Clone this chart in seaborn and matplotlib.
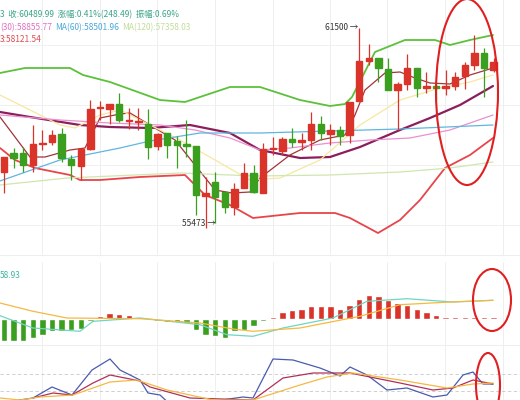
import matplotlib
matplotlib.use("Agg")
import matplotlib.pyplot as plt
import seaborn as sns
import numpy as np
import pandas as pd
from matplotlib.patches import Ellipse, Rectangle

sns.set_theme(style="white")
plt.rcParams['font.family'] = ['Noto Sans CJK SC', 'DejaVu Sans']

# candle readings (screen y, smaller = higher price): open, close, high, low
opens  = [172,153,153,165,144,142,134,159,166,149,108,109,104,121,122,124,146,133,141,144,146,196,182,192,207,188,173,
          193,149,151,139,142,140,124,134,130,135,101,61,58,69,90,84,68,88,86,88,86,76,65,53,70]
closes = [157,158,165,144,143,135,158,165,149,109,108,104,120,121,122,147,134,145,145,146,195,193,197,207,189,173,192,
          149,149,139,142,140,124,133,130,136,102,61,58,68,90,84,68,88,86,88,86,77,65,53,68,62]
highs  = [157,148,147,125,130,130,128,155,148,100,101,104,93,108,108,109,133,133,136,120,146,177,172,193,183,163,165,
          143,137,137,128,133,112,116,124,126,102,28,44,58,58,82,54,68,72,82,70,72,62,35,48,58]
lows   = [193,168,172,172,150,145,162,180,180,150,120,124,122,129,130,159,150,158,168,157,215,228,223,213,215,188,193,
          193,155,155,147,150,150,140,145,145,143,101,65,82,90,130,90,97,93,100,95,90,89,70,97,72]

# overlay lines: (screen x, screen y) readings
bb_up_x = [0,25,70,83,110,160,185,230,260,300,330,345,352,375,405,435,450,470,493]
bb_up_y = [73,68,68,75,82,100,102,87,87,100,106,104,97,52,40,40,45,40,35]
bb_lo_x = [0,15,35,70,80,100,140,185,205,230,253,300,335,350,378,400,420,445,470,493]
bb_lo_y = [148,160,168,175,180,180,177,175,195,205,218,213,213,218,233,220,200,168,155,138]
bb_mid_x = [0,30,80,110,150,190,230,260,300,330,360,400,430,460,493]
bb_mid_y = [112,117,125,127,128,125,133,150,158,157,147,130,118,105,86]
ma5_x = [0,30,45,70,85,100,120,130,145,175,195,215,232,250,260,290,320,345,355,365,385,400,415,430,450,470,493]
ma5_y = [117,157,157,150,148,118,114,113,122,140,165,190,193,192,178,155,140,135,115,90,73,72,78,83,84,75,68]
ma10_x = [0,40,60,75,100,120,150,180,215,250,280,320,360,400,440,470,493]
ma10_y = [95,115,125,128,115,110,125,140,160,180,178,160,125,100,88,82,75]
ma30_x = [0,60,110,160,195,230,260,290,330,370,410,450,493]
ma30_y = [115,120,123,125,130,138,150,148,143,140,138,130,115]
ma60_x = [0,60,120,150,200,260,330,400,493]
ma60_y = [181,160,148,141,133,133,131,129,125]
ma120_x = [0,67,180,255,330,400,450,493]
ma120_y = [185,178,173,176,175,172,168,162]

# MACD histogram (one per candle) and DIF/DEA lines
macd_hist = [-21.7,-21.7,-22.3,-19,-15.7,-12.3,-12.3,-10.7,-10,-2,2.7,6,5,4.3,2,-0.7,-1.7,-2.7,-3.3,-4,
             -10.7,-15.7,-17.3,-19,-12.3,-10.7,-6.7,-2.3,2,7,8.7,10,12.7,12.7,12.7,10.3,13.7,20,24.3,23.3,
             18.7,16,13.7,10.3,7,3.7,1.7,1.7,1.7,1.7,1.7,1.7]
dif_x = [0,33,80,93,140,200,227,253,283,333,367,407,453,493]
dif_y = [3.3,-9,-12.3,-2.3,1,-5.7,-15.7,-17.3,-9,1,17.7,20.3,17,18.7]
dea_x = [0,33,67,140,200,233,253,300,360,400,450,493]
dea_y = [16,7.7,1,0.3,-4,-10,-12.3,-9,2.7,14.3,17,18.7]

# KDJ readings (screen y)
k_x = [0,33,52,72,92,110,120,140,148,160,173,243,253,273,293,320,340,350,367,387,407,433,447,463,473,483,493]
k_y = [403,398,387,395,370,359,370,380,393,395,407,397,398,359,360,368,376,367,375,390,388,397,395,375,372,384,384]
d_x = [33,53,72,93,110,140,150,190,253,283,313,350,400,433,453,473,493]
d_y = [398,393,395,383,375,381,387,398,400,378,373,373,383,390,388,380,384]
j_x = [0,20,40,73,110,137,167,213,253,300,327,353,400,447,473,493]
j_y = [398,400,397,395,382,380,390,400,400,385,377,373,380,388,384,383]

P0, Y0, SCALE = 61500, 28, 30.1
to_price = lambda y: P0 - (np.asarray(y, float) - Y0) * SCALE
to_idx = lambda x: (np.asarray(x, float) - 4) / 9.6

df = pd.DataFrame({"open": to_price(opens), "close": to_price(closes),
                   "high": to_price(highs), "low": to_price(lows)})
df["i"] = np.arange(len(df))
RED, GREEN = "#d9332a", "#3a9e1e"

fig = plt.figure(figsize=(5.2, 4.0), dpi=100)
xl = (to_idx(0), to_idx(520))

def grid(ax, xs):
    for gx in xs:
        ax.axvline(to_idx(gx), color="#eeeeee", lw=0.7, zorder=0)

# main panel: screen y 0..255
ax = fig.add_axes([0, 1 - 255 / 400, 1, 255 / 400])
ax.set_xlim(*xl)
ax.set_ylim(to_price(255), to_price(0))
grid(ax, [42, 100, 157, 215, 273, 330, 387, 445, 503])
for gy in [45, 105, 165, 225]:
    ax.axhline(to_price(gy), color="#f0f0f0", lw=0.7, zorder=0)

lines = [(bb_up_x, bb_up_y, "#5cc13a", 1.3), (bb_lo_x, bb_lo_y, "#e8454a", 1.3),
         (bb_mid_x, bb_mid_y, "#8b1f5c", 1.6), (ma5_x, ma5_y, "#a3343a", 0.9),
         (ma10_x, ma10_y, "#f7e7a0", 0.9), (ma30_x, ma30_y, "#ea8fd0", 0.9),
         (ma60_x, ma60_y, "#5fb6e0", 0.9), (ma120_x, ma120_y, "#cfe6b0", 0.9)]
for lx, ly, c, w in lines:
    sns.lineplot(x=to_idx(lx), y=to_price(ly), color=c, lw=w, ax=ax, zorder=2)

for _, r in df.iterrows():
    up = r.close >= r.open
    c = RED if up else GREEN
    ax.vlines(r.i, r.low, r.high, color=c, lw=0.9, zorder=3)
    lo, hi = min(r.open, r.close), max(r.open, r.close)
    ax.add_patch(Rectangle((r.i - 0.33, lo), 0.66, max(hi - lo, 40), color=c, zorder=4))
ax.set_axis_off()

# MACD panel: screen y 262..345, zero line at y 319
ax2 = fig.add_axes([0, 1 - 345 / 400, 1, 83 / 400])
ax2.set_xlim(*xl)
ax2.set_ylim(-26, 57)
grid(ax2, [42, 100, 157, 215, 273, 330, 387, 445, 503])
ax2.bar(df.i, macd_hist, width=0.66,
        color=[RED if v > 0 else GREEN for v in macd_hist], zorder=3)
sns.lineplot(x=to_idx(dif_x), y=dif_y, color="#6fd6c0", lw=0.9, ax=ax2, zorder=4)
sns.lineplot(x=to_idx(dea_x), y=dea_y, color="#f5b942", lw=0.9, ax=ax2, zorder=4)
ax2.set_axis_off()

# KDJ panel: screen y 345..400
ax3 = fig.add_axes([0, 0, 1, 55 / 400])
ax3.set_xlim(*xl)
ax3.set_ylim(400, 345)
grid(ax3, [42, 100, 157, 215, 273, 330, 387, 445, 503])
for gy in [374, 391]:
    ax3.axhline(gy, color="#c8c8c8", lw=0.6, ls=(0, (4, 3)), zorder=1)
sns.lineplot(x=to_idx(k_x), y=k_y, color="#4a5bb0", lw=0.9, ax=ax3, zorder=4)
sns.lineplot(x=to_idx(d_x), y=d_y, color="#b0305a", lw=0.9, ax=ax3, zorder=4)
sns.lineplot(x=to_idx(j_x), y=j_y, color="#f5b942", lw=0.9, ax=ax3, zorder=4)
ax3.set_axis_off()

# overlay in screen pixels
ov = fig.add_axes([0, 0, 1, 1], facecolor="none")
ov.set_xlim(0, 520)
ov.set_ylim(400, 0)
ov.set_axis_off()
ov.plot([0, 520], [255, 255], color="#eeeeee", lw=0.8)
ov.plot([0, 520], [345, 345], color="#eeeeee", lw=0.8)
fs = 6
ov.text(0, 15, "3  收:60489.99  涨幅:0.41%(248.49)  振幅:0.69%", color="#3aa38a", fontsize=fs, va="center")
ov.text(0, 28, "(30):58855.77", color="#e070c0", fontsize=fs, va="center")
ov.text(55, 28, "MA(60):58501.96", color="#4aa8d8", fontsize=fs, va="center")
ov.text(122, 28, "MA(120):57358.03", color="#c2dc9a", fontsize=fs, va="center")
ov.text(0, 40, "3:58121.54", color="#e04a50", fontsize=fs, va="center")
ov.text(0, 276, "58.93", color="#3ab8a0", fontsize=fs, va="center")
ov.text(325, 27, "61500 →", color="#333333", fontsize=fs, va="center")
ov.text(182, 223, "55473 →", color="#333333", fontsize=fs, va="center")
for cx, cy, w, h in [(467, 92, 62, 186), (492, 300, 38, 62), (488, 385, 24, 64)]:
    ov.add_patch(Ellipse((cx, cy), w, h, fill=False, edgecolor="#e02020", lw=1.5))

fig.savefig("out.png", dpi=100, facecolor="white")
